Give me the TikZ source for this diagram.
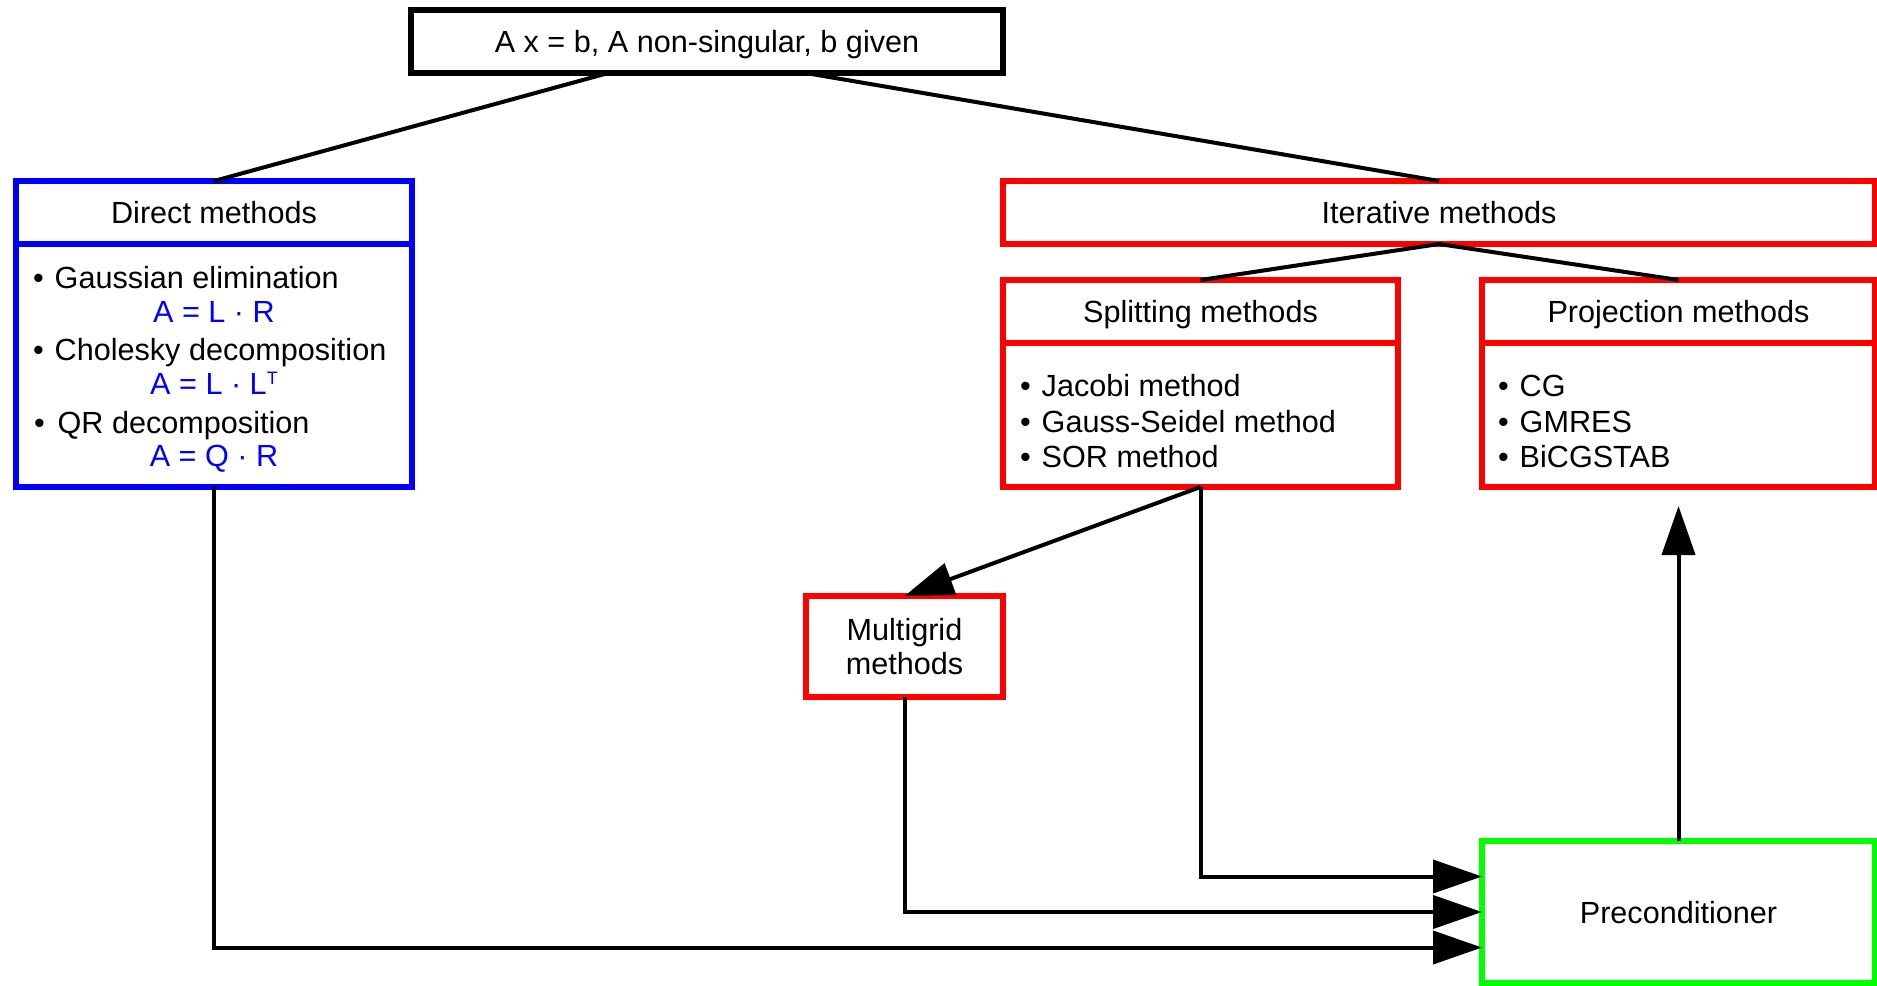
\documentclass[tikz,border=0pt]{standalone}
\usepackage{fontspec}
\setmainfont{Liberation Sans}
\usetikzlibrary{arrows.meta,calc,positioning}
\definecolor{DirBlue}{HTML}{0000FF}
\definecolor{IterRed}{HTML}{FF0000}
\definecolor{PrecGreen}{HTML}{00FF00}
\newcommand{\smallsup}[1]{\raisebox{4.6pt}{\fontsize{9pt}{9pt}\selectfont #1}}
\tikzset{
  every node/.style={font=\fontsize{15.3pt}{16.8pt}\selectfont, outer sep=0pt},
  box/.style={draw=black, line width=3pt, inner sep=0pt, text height=11pt, text depth=0pt},
  direct/.style={box, draw=DirBlue},
  iter/.style={box, draw=IterRed},
  precbox/.style={box, draw=PrecGreen},
  item/.style={anchor=base west, inner sep=0pt},
  formula/.style={anchor=base, inner sep=0pt, text=DirBlue},
  link/.style={draw=black, line width=2pt},
  arrow/.style={link, -{Triangle[length=24.5pt,width=16.5pt]}},
}

\begin{document}
\begin{tikzpicture}[x=0.5pt, y=-0.5pt]
  \useasboundingbox (0,0) rectangle (1877,985);
  % Problem statement
  \node[box, minimum width=296pt, minimum height=31.5pt] (top) at (707,41.5)
    {A x = b, A non-singular, b given};
  % Direct methods
  \node[direct, minimum width=198pt, minimum height=31.5pt] (dirhead) at (214,212.5) {Direct methods};
  \node[direct, minimum width=198pt, minimum height=121.5pt] (dirbody) at (214,365.5) {};
  \node[item] (gauss) at (33,288) {\textbullet\hspace{5.5pt}Gaussian elimination};
  \node[formula] (lr) at (214,322) {A = L · R};
  \node[item] (chol) at (33,360) {\textbullet\hspace{5.5pt}Cholesky decomposition};
  \node[formula] (llt) at (214,394) {A = L · L\smallsup{T}};
  \node[item] (qr) at (34,433) {\textbullet\hspace{6.5pt}QR decomposition};
  \node[formula] (qrf) at (214,466) {A = Q · R};
  % Iterative methods
  \node[iter, minimum width=436pt, minimum height=31.5pt] (ithead) at (1439,212.5) {Iterative methods};
  \node[iter, minimum width=197.5pt, minimum height=31.5pt] (splhead) at (1200.5,311.5) {Splitting methods};
  \node[iter, minimum width=197.5pt, minimum height=72pt] (splbody) at (1200.5,415) {};
  \node[item] (jacobi) at (1020,396) {\textbullet\hspace{5.5pt}Jacobi method};
  \node[item] (gs) at (1020,432) {\textbullet\hspace{5.5pt}Gauss-Seidel method};
  \node[item] (sor) at (1020,467) {\textbullet\hspace{5.5pt}SOR method};
  \node[iter, minimum width=196.5pt, minimum height=31.5pt] (prohead) at (1678.5,311.5) {Projection methods};
  \node[iter, minimum width=196.5pt, minimum height=72pt] (probody) at (1678.5,415) {};
  \node[item] (cg) at (1498,396) {\textbullet\hspace{5.5pt}CG};
  \node[item] (gmres) at (1498,432) {\textbullet\hspace{5.5pt}GMRES};
  \node[item] (bicg) at (1498,467) {\textbullet\hspace{5.5pt}BiCGSTAB};
  \node[iter, align=center, text height=, minimum width=98.5pt, minimum height=50.5pt] (multi) at (904.5,646.5)
    {Multigrid\\methods};
  % Preconditioner
  \node[precbox, minimum width=196.5pt, minimum height=71pt] (precon) at (1678.5,912) {Preconditioner};
  % Connectors
  \draw[link] ($(top.south west)!1/3!(top.south east)$) -- (dirhead.north);
  \draw[link] ($(top.south west)!2/3!(top.south east)$) -- (ithead.north);
  \draw[link] (ithead.south) -- (splhead.north);
  \draw[link] (ithead.south) -- (prohead.north);
  \draw[arrow] (splbody.south) -- (multi.north);
  \draw[arrow] (splbody.south) |- ($(precon.north west)!0.25!(precon.south west)$);
  \draw[arrow] (multi.south) |- (precon.west);
  \draw[arrow] (dirbody.south) |- ($(precon.north west)!0.75!(precon.south west)$);
  \coordinate (protip) at ($(probody.south)+(0,19)$);
  \draw[arrow] (precon.north) -- (protip);
\end{tikzpicture}
\end{document}
